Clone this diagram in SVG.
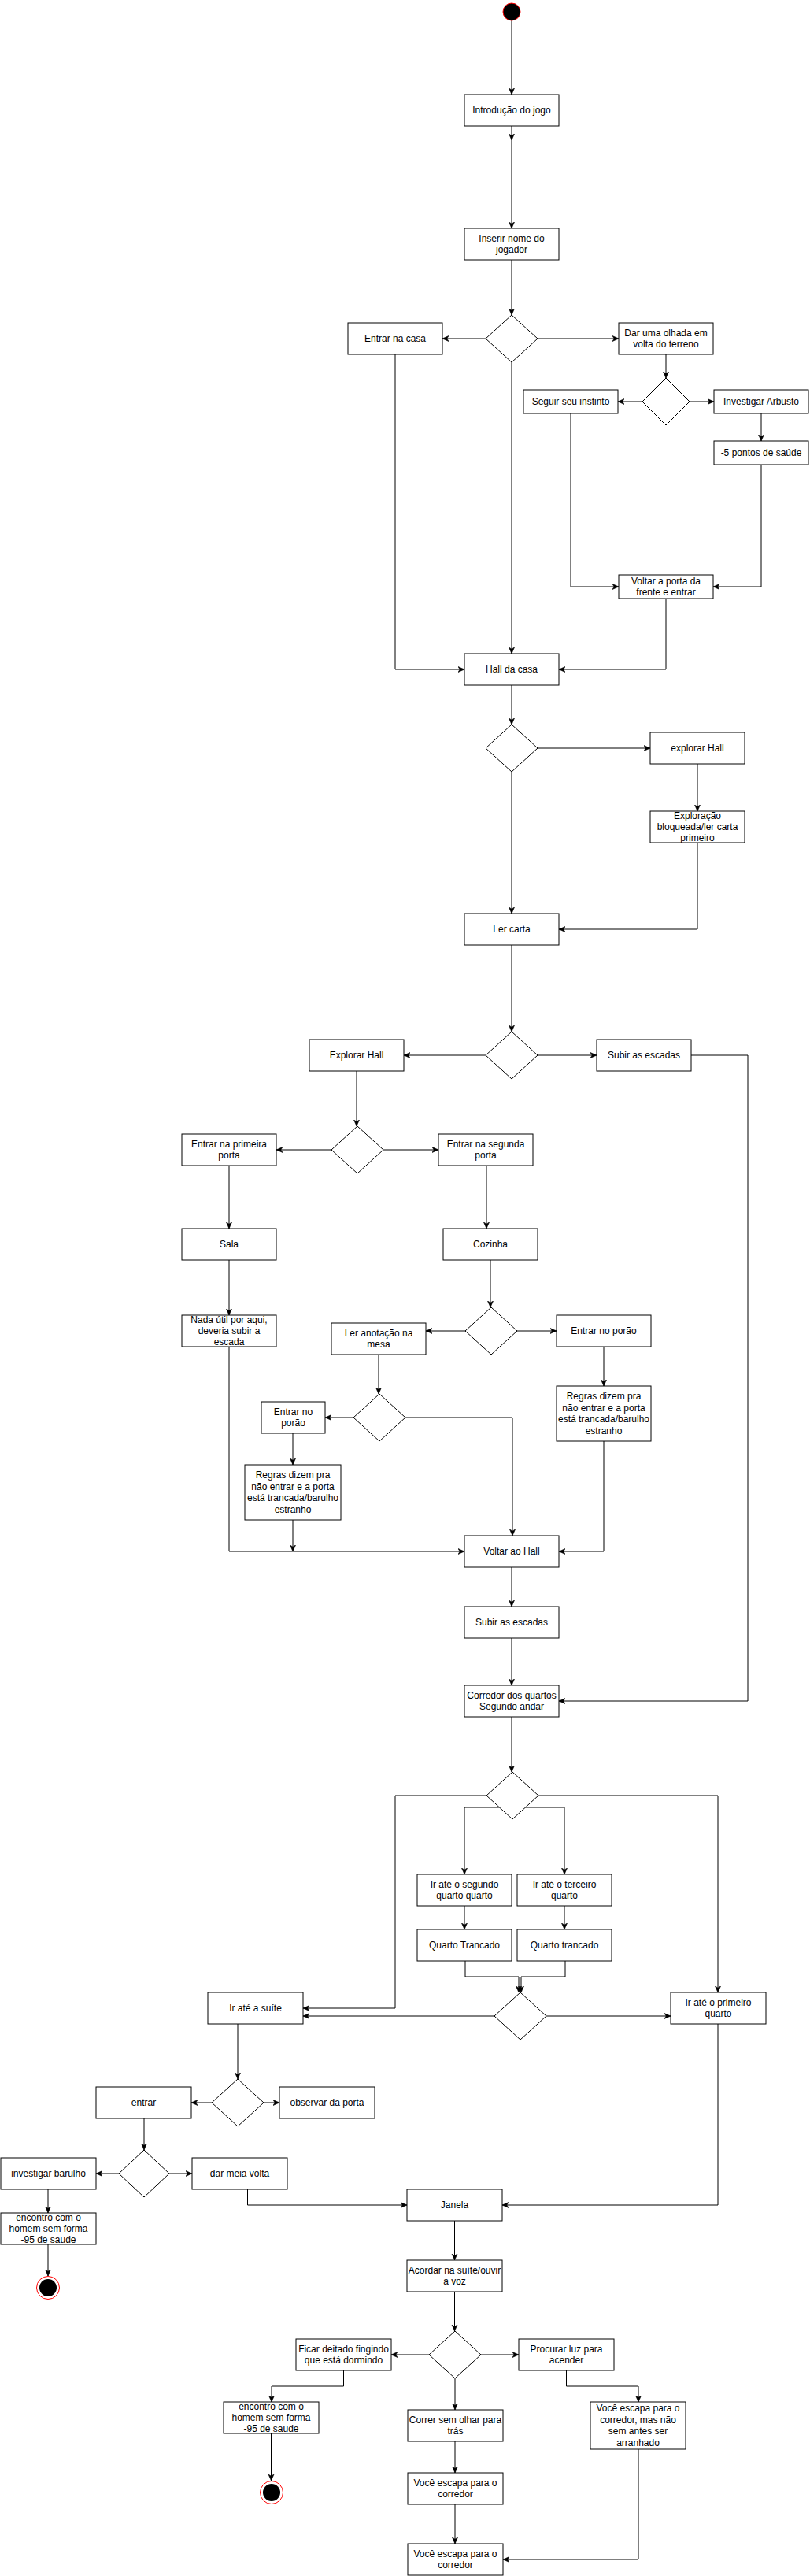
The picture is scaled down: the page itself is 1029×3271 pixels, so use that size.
<svg xmlns="http://www.w3.org/2000/svg" width="1029" height="3271" viewBox="0 0 1029 3271">
<style>
rect.b{fill:#fff;stroke:#000;stroke-width:1}
polygon.d{fill:#fff;stroke:#000;stroke-width:1}
text{font-family:"Liberation Sans",Arial,sans-serif;font-size:12px;fill:#000;text-anchor:middle}
.e path{fill:none;stroke:#000;stroke-width:1;marker-end:url(#arr)}
</style>
<defs>
<marker id="arr" markerUnits="userSpaceOnUse" markerWidth="9" markerHeight="9" refX="8" refY="4.5" orient="auto">
<path d="M0,1 L8,4.5 L0,8 L2.2,4.5 Z" fill="#000" stroke="#000" stroke-width="0.6"/>
</marker>
</defs>
<rect width="1029" height="3271" fill="#fff"/>
<g class="e" id="connectors">
<path d="M650,26 V120"/>
<path d="M650,160 V178"/>
<path d="M650,178 V290"/>
<path d="M650,330 V400"/>
<path d="M617,430 H562"/>
<path d="M683,430 H786"/>
<path d="M846,450 V480"/>
<path d="M816,510 H785"/>
<path d="M876,510 H907"/>
<path d="M967,525 V560"/>
<path d="M725,525 V745 H786"/>
<path d="M967,590 V745 H906"/>
<path d="M502,450 V850 H590"/>
<path d="M650,460 V830"/>
<path d="M846,760 V850 H710"/>
<path d="M650,870 V920"/>
<path d="M683,950 H826"/>
<path d="M886,970 V1030"/>
<path d="M886,1070 V1180 H710"/>
<path d="M650,980 V1160"/>
<path d="M650,1200 V1310"/>
<path d="M617,1340 H513"/>
<path d="M683,1340 H758"/>
<path d="M453,1360 V1430"/>
<path d="M421,1460 H351"/>
<path d="M487,1460 H557"/>
<path d="M291,1480 V1560"/>
<path d="M618,1480 V1560"/>
<path d="M291,1600 V1670"/>
<path d="M623,1600 V1660"/>
<path d="M591,1690 H541"/>
<path d="M657,1690 H707"/>
<path d="M767,1710 V1760"/>
<path d="M481,1720 V1770"/>
<path d="M449,1800 H413"/>
<path d="M515,1800 H651 V1950"/>
<path d="M372,1820 V1860"/>
<path d="M372,1930 V1970"/>
<path d="M291,1710 V1970 H590"/>
<path d="M767,1830 V1970 H710"/>
<path d="M650,1990 V2040"/>
<path d="M650,2080 V2140"/>
<path d="M878,1340 H950 V2160 H710"/>
<path d="M650,2180 V2250"/>
<path d="M618,2280 H502 V2550 H385"/>
<path d="M684,2280 H912 V2530"/>
<path d="M634.5,2295 H590 V2380"/>
<path d="M667.5,2295 H717 V2380"/>
<path d="M590,2420 V2450"/>
<path d="M717,2420 V2450"/>
<path d="M591,2490 V2510 H659 V2530"/>
<path d="M718,2490 V2510 H662 V2530"/>
<path d="M628,2560 H385"/>
<path d="M694,2560 H852"/>
<path d="M302,2570 V2640"/>
<path d="M269,2670 H243"/>
<path d="M335,2670 H355"/>
<path d="M183,2690 V2730"/>
<path d="M151,2760 H122"/>
<path d="M215,2760 H244"/>
<path d="M61,2780 V2810"/>
<path d="M314.5,2780 V2800 H517"/>
<path d="M912,2570 V2800 H638"/>
<path d="M61,2850 V2890"/>
<path d="M577.5,2820 V2870"/>
<path d="M577.5,2910 V2960"/>
<path d="M545,2990 H497"/>
<path d="M611,2990 H659"/>
<path d="M436.5,3010 V3030 H345 V3050"/>
<path d="M344.5,3090 V3150"/>
<path d="M578,3020 V3060"/>
<path d="M719.5,3010 V3030 H811 V3050"/>
<path d="M578,3100 V3140"/>
<path d="M578,3180 V3230"/>
<path d="M811,3110 V3250 H639"/>
</g>
<g id="start"><circle cx="650" cy="15" r="11" fill="#000" stroke="#ff0000" stroke-width="1"/></g>
<g id="n_intro"><rect class="b" x="590" y="120" width="120" height="40"/><text x="650" y="144">Introdução do jogo</text></g>
<g id="n_nome"><rect class="b" x="590" y="290" width="120" height="40"/><text><tspan x="650" y="306.8">Inserir nome do</tspan><tspan x="650" y="321.2">jogador</tspan></text></g>
<g id="d1"><polygon class="d" points="650,400 683,430 650,460 617,430"/></g>
<g id="n_entrar"><rect class="b" x="442" y="410" width="120" height="40"/><text x="502" y="434">Entrar na casa</text></g>
<g id="n_olhada"><rect class="b" x="786" y="410" width="120" height="40"/><text><tspan x="846" y="426.8">Dar uma olhada em</tspan><tspan x="846" y="441.2">volta do terreno</tspan></text></g>
<g id="d2"><polygon class="d" points="846,480 876,510 846,540 816,510"/></g>
<g id="n_seguir"><rect class="b" x="665" y="495" width="120" height="30"/><text x="725" y="514">Seguir seu instinto</text></g>
<g id="n_arbusto"><rect class="b" x="907" y="495" width="120" height="30"/><text x="967" y="514">Investigar Arbusto</text></g>
<g id="n_menos5"><rect class="b" x="907" y="560" width="120" height="30"/><text x="967" y="579">-5 pontos de saúde</text></g>
<g id="n_voltar"><rect class="b" x="786" y="730" width="120" height="30"/><text><tspan x="846" y="741.8">Voltar a porta da</tspan><tspan x="846" y="756.2">frente e entrar</tspan></text></g>
<g id="n_hall"><rect class="b" x="590" y="830" width="120" height="40"/><text x="650" y="854">Hall da casa</text></g>
<g id="d3"><polygon class="d" points="650,920 683,950 650,980 617,950"/></g>
<g id="n_explorar"><rect class="b" x="826" y="930" width="120" height="40"/><text x="886" y="954">explorar Hall</text></g>
<g id="n_bloq"><rect class="b" x="826" y="1030" width="120" height="40"/><text><tspan x="886" y="1039.6">Exploração</tspan><tspan x="886" y="1054">bloqueada/ler carta</tspan><tspan x="886" y="1068.4">primeiro</tspan></text></g>
<g id="n_carta"><rect class="b" x="590" y="1160" width="120" height="40"/><text x="650" y="1184">Ler carta</text></g>
<g id="d4"><polygon class="d" points="650,1310 683,1340 650,1370 617,1340"/></g>
<g id="n_exphall"><rect class="b" x="393" y="1320" width="120" height="40"/><text x="453" y="1344">Explorar Hall</text></g>
<g id="n_subir1"><rect class="b" x="758" y="1320" width="120" height="40"/><text x="818" y="1344">Subir as escadas</text></g>
<g id="d5"><polygon class="d" points="454,1430 487,1460 454,1490 421,1460"/></g>
<g id="n_porta1"><rect class="b" x="231" y="1440" width="120" height="40"/><text><tspan x="291" y="1456.8">Entrar na primeira</tspan><tspan x="291" y="1471.2">porta</tspan></text></g>
<g id="n_porta2"><rect class="b" x="557" y="1440" width="120" height="40"/><text><tspan x="617" y="1456.8">Entrar na segunda</tspan><tspan x="617" y="1471.2">porta</tspan></text></g>
<g id="n_sala"><rect class="b" x="231" y="1560" width="120" height="40"/><text x="291" y="1584">Sala</text></g>
<g id="n_cozinha"><rect class="b" x="563" y="1560" width="120" height="40"/><text x="623" y="1584">Cozinha</text></g>
<g id="n_nada"><rect class="b" x="231" y="1670" width="120" height="40"/><text><tspan x="291" y="1679.6">Nada útil por aqui,</tspan><tspan x="291" y="1694">deveria subir a</tspan><tspan x="291" y="1708.4">escada</tspan></text></g>
<g id="d6"><polygon class="d" points="624,1660 657,1690 624,1720 591,1690"/></g>
<g id="n_anot"><rect class="b" x="421" y="1680" width="120" height="40"/><text><tspan x="481" y="1696.8">Ler anotação na</tspan><tspan x="481" y="1711.2">mesa</tspan></text></g>
<g id="n_porao_r"><rect class="b" x="707" y="1670" width="120" height="40"/><text x="767" y="1694">Entrar no porão</text></g>
<g id="n_regras_r"><rect class="b" x="707" y="1760" width="120" height="70"/><text><tspan x="767" y="1777.4">Regras dizem pra</tspan><tspan x="767" y="1791.8">não entrar e a porta</tspan><tspan x="767" y="1806.2">está trancada/barulho</tspan><tspan x="767" y="1820.6">estranho</tspan></text></g>
<g id="d7"><polygon class="d" points="482,1770 515,1800 482,1830 449,1800"/></g>
<g id="n_porao_l"><rect class="b" x="332" y="1780" width="81" height="40"/><text><tspan x="372.5" y="1796.8">Entrar no</tspan><tspan x="372.5" y="1811.2">porão</tspan></text></g>
<g id="n_regras_l"><rect class="b" x="311" y="1860" width="122" height="70"/><text><tspan x="372" y="1877.4">Regras dizem pra</tspan><tspan x="372" y="1891.8">não entrar e a porta</tspan><tspan x="372" y="1906.2">está trancada/barulho</tspan><tspan x="372" y="1920.6">estranho</tspan></text></g>
<g id="n_vhall"><rect class="b" x="590" y="1950" width="120" height="40"/><text x="650" y="1974">Voltar ao Hall</text></g>
<g id="n_subir2"><rect class="b" x="590" y="2040" width="120" height="40"/><text x="650" y="2064">Subir as escadas</text></g>
<g id="n_corredor"><rect class="b" x="590" y="2140" width="120" height="40"/><text><tspan x="650" y="2156.8">Corredor dos quartos</tspan><tspan x="650" y="2171.2">Segundo andar</tspan></text></g>
<g id="d8"><polygon class="d" points="651,2250 684,2280 651,2310 618,2280"/></g>
<g id="n_q2"><rect class="b" x="530" y="2380" width="120" height="40"/><text><tspan x="590" y="2396.8">Ir até o segundo</tspan><tspan x="590" y="2411.2">quarto quarto</tspan></text></g>
<g id="n_q3"><rect class="b" x="657" y="2380" width="120" height="40"/><text><tspan x="717" y="2396.8">Ir até o terceiro</tspan><tspan x="717" y="2411.2">quarto</tspan></text></g>
<g id="n_qt2"><rect class="b" x="530" y="2450" width="120" height="40"/><text x="590" y="2474">Quarto Trancado</text></g>
<g id="n_qt3"><rect class="b" x="657" y="2450" width="120" height="40"/><text x="717" y="2474">Quarto trancado</text></g>
<g id="d9"><polygon class="d" points="661,2530 694,2560 661,2590 628,2560"/></g>
<g id="n_suite"><rect class="b" x="264" y="2530" width="121" height="40"/><text x="324.5" y="2554">Ir até a suíte</text></g>
<g id="n_q1"><rect class="b" x="852" y="2530" width="121" height="40"/><text><tspan x="912.5" y="2546.8">Ir até o primeiro</tspan><tspan x="912.5" y="2561.2">quarto</tspan></text></g>
<g id="d10"><polygon class="d" points="302,2640 335,2670 302,2700 269,2670"/></g>
<g id="n_entrar2"><rect class="b" x="122" y="2650" width="121" height="40"/><text x="182.5" y="2674">entrar</text></g>
<g id="n_observar"><rect class="b" x="355" y="2650" width="121" height="40"/><text x="415.5" y="2674">observar da porta</text></g>
<g id="d11"><polygon class="d" points="183,2730 215,2760 183,2790 151,2760"/></g>
<g id="n_invest"><rect class="b" x="1" y="2740" width="121" height="40"/><text x="61.5" y="2764">investigar barulho</text></g>
<g id="n_meia"><rect class="b" x="244" y="2740" width="121" height="40"/><text x="304.5" y="2764">dar meia volta</text></g>
<g id="n_encontro1"><rect class="b" x="1" y="2810" width="121" height="40"/><text><tspan x="61.5" y="2819.6">encontro com o</tspan><tspan x="61.5" y="2834">homem sem forma</tspan><tspan x="61.5" y="2848.4">-95 de saude</tspan></text></g>
<g id="end1"><circle cx="61" cy="2905" r="14.5" fill="#fff" stroke="#ff0000" stroke-width="1"/><circle cx="61" cy="2905" r="11" fill="#000"/></g>
<g id="n_janela"><rect class="b" x="517" y="2780" width="121" height="40"/><text x="577.5" y="2804">Janela</text></g>
<g id="n_acordar"><rect class="b" x="517" y="2870" width="121" height="40"/><text><tspan x="577.5" y="2886.8">Acordar na suíte/ouvir</tspan><tspan x="577.5" y="2901.2">a voz</tspan></text></g>
<g id="d12"><polygon class="d" points="578,2960 611,2990 578,3020 545,2990"/></g>
<g id="n_ficar"><rect class="b" x="376" y="2970" width="121" height="40"/><text><tspan x="436.5" y="2986.8">Ficar deitado fingindo</tspan><tspan x="436.5" y="3001.2">que está dormindo</tspan></text></g>
<g id="n_procurar"><rect class="b" x="659" y="2970" width="121" height="40"/><text><tspan x="719.5" y="2986.8">Procurar luz para</tspan><tspan x="719.5" y="3001.2">acender</tspan></text></g>
<g id="n_encontro2"><rect class="b" x="284" y="3050" width="121" height="40"/><text><tspan x="344.5" y="3059.6">encontro com o</tspan><tspan x="344.5" y="3074">homem sem forma</tspan><tspan x="344.5" y="3088.4">-95 de saude</tspan></text></g>
<g id="end2"><circle cx="345" cy="3165" r="14.5" fill="#fff" stroke="#ff0000" stroke-width="1"/><circle cx="345" cy="3165" r="11" fill="#000"/></g>
<g id="n_correr"><rect class="b" x="518" y="3060" width="121" height="40"/><text><tspan x="578.5" y="3076.8">Correr sem olhar para</tspan><tspan x="578.5" y="3091.2">trás</tspan></text></g>
<g id="n_arranhado"><rect class="b" x="750" y="3050" width="121" height="60"/><text><tspan x="810.5" y="3062.4">Você escapa para o</tspan><tspan x="810.5" y="3076.8">corredor, mas não</tspan><tspan x="810.5" y="3091.2">sem antes ser</tspan><tspan x="810.5" y="3105.6">arranhado</tspan></text></g>
<g id="n_escapa1"><rect class="b" x="518" y="3140" width="121" height="40"/><text><tspan x="578.5" y="3156.8">Você escapa para o</tspan><tspan x="578.5" y="3171.2">corredor</tspan></text></g>
<g id="n_escapa2"><rect class="b" x="518" y="3230" width="121" height="40"/><text><tspan x="578.5" y="3246.8">Você escapa para o</tspan><tspan x="578.5" y="3261.2">corredor</tspan></text></g>
</svg>
